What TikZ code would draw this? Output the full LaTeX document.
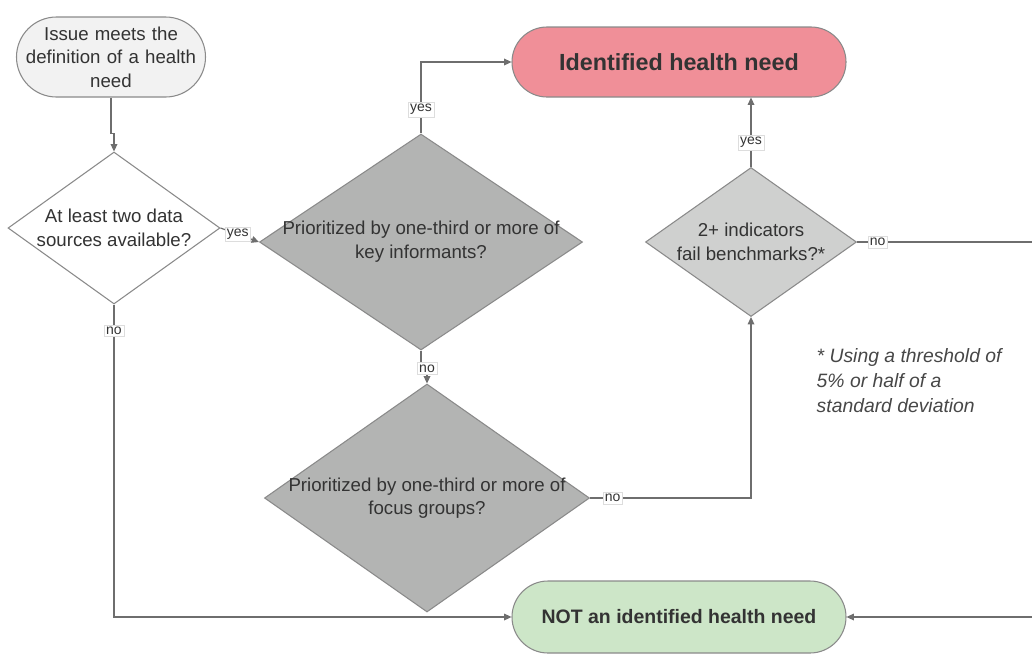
\documentclass[tikz,border=0pt]{standalone}
\usepackage{fontspec}
\setmainfont{Liberation Sans}
\usetikzlibrary{shapes.geometric,arrows.meta}
\definecolor{linegray}{HTML}{6E6E6E}
\definecolor{edgegray}{HTML}{8A8A8A}
\definecolor{boxgray}{HTML}{DDDDDD}
\definecolor{textgray}{HTML}{333333}
\definecolor{startgray}{HTML}{F2F2F2}
\definecolor{darkq}{HTML}{B3B4B3}
\definecolor{lightq}{HTML}{CFD0CF}
\definecolor{needred}{HTML}{F08F98}
\definecolor{notgreen}{HTML}{CDE6C8}
\tikzset{
  pill/.style={rectangle, draw=edgegray, line width=0.8pt, text=textgray, inner sep=0pt, align=center},
  decision/.style={diamond, draw=edgegray, line width=0.8pt, inner sep=0pt},
  qtext/.style={align=center, text=textgray, font=\fontsize{14}{17.75}\selectfont},
  answer/.style={fill=white, draw=boxgray, line width=0.4pt, inner sep=1.5pt, text=textgray, font=\fontsize{10.5}{12}\selectfont},
  flow/.style={draw=linegray, line width=0.9pt, -{Triangle[length=5.5pt,width=5pt]}},
  note/.style={align=left, text=textgray!90, font=\itshape\fontsize{14.5}{18.75}\selectfont}
}
\begin{document}
\begin{tikzpicture}[x=0.75pt,y=-0.75pt]
\useasboundingbox (0,0) rectangle (1032,654);
% start and end points
\node[pill, fill=startgray, text width=140pt, minimum width=141.75pt, minimum height=60pt, rounded corners=30pt,
  font=\fontsize{14}{17.5}\selectfont] (issue) at (111,57) {Issue meets the\\definition of a health\\need};
\node[pill, fill=needred, minimum width=250.5pt, minimum height=52.5pt, rounded corners=26.25pt,
  font=\bfseries\fontsize{17.5}{20}\selectfont] (need) at (679,62) {Identified health need};
\node[pill, fill=notgreen, minimum width=250.5pt, minimum height=54pt, rounded corners=27pt,
  font=\bfseries\fontsize{14.6}{17}\selectfont] (notneed) at (679,617) {NOT an identified health need};
% decisions
\node[decision, fill=white, minimum width=159pt, minimum height=114pt,
  label={[qtext]center:At least two data\\sources available?}] (sources) at (114,228) {};
\node[decision, fill=darkq, minimum width=242.25pt, minimum height=162pt,
  label={[qtext]center:Prioritized by one-third or more of\\key informants?}] (informants) at (421,242) {};
\node[decision, fill=darkq, minimum width=243.75pt, minimum height=171pt,
  label={[qtext]center:Prioritized by one-third or more of\\focus groups?}] (groups) at (427,498) {};
\node[decision, fill=lightq, minimum width=158.25pt, minimum height=111.75pt,
  label={[qtext]center:2+ indicators\\fail benchmarks?*}] (benchmarks) at (751,242) {};
\node[note, anchor=north west] (footnote) at (812,344) {* Using a threshold of\\5\% or half of a\\standard deviation};
% loop back past the right edge
\coordinate (edge) at (1045,242);
% connectors
\draw[flow] (issue.south) -- ++(0,36) -| (sources.north);
\draw[flow] (sources.east) -- node[answer, pos=0.45] {yes} (informants.west);
\draw[flow] (informants.north) |- node[answer, pos=0.167] {yes} (need.west);
\draw[flow] (informants.south) -- ++(0,12) -| node[answer, pos=0.64] {no} (groups.north);
\draw[flow] (groups.east) -| node[answer, pos=0.07] {no} (benchmarks.south);
\draw[flow] (benchmarks.north) -- node[answer, pos=0.35] {yes} (benchmarks.north |- need.south);
\draw[flow] (benchmarks.east) -- node[answer, pos=0.11] {no} (edge) -- (edge |- notneed.east) -- (notneed.east);
\draw[flow] (sources.south) |- node[answer, pos=0.042] {no} (notneed.west);
\end{tikzpicture}
\end{document}
